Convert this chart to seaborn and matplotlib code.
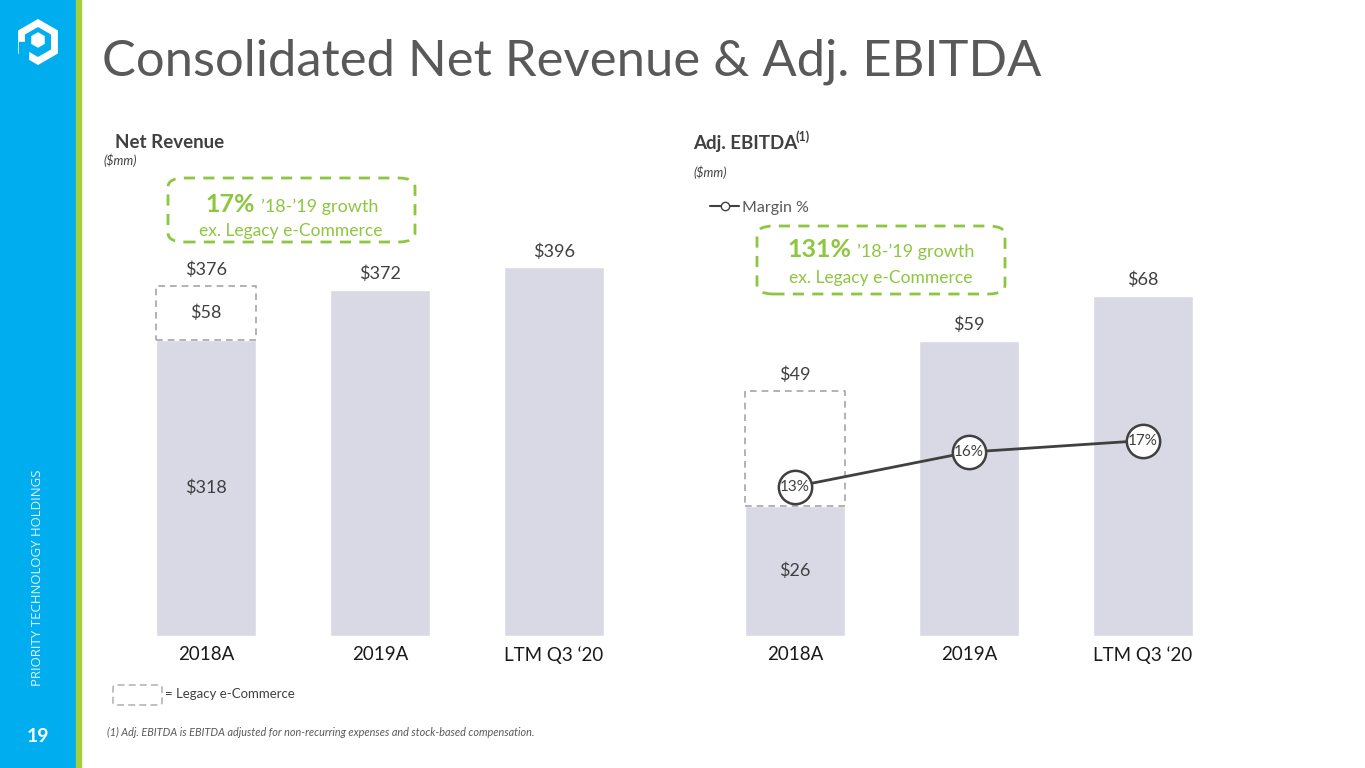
import numpy as np
import pandas as pd
import matplotlib
matplotlib.use("Agg")
import matplotlib.pyplot as plt
import seaborn as sns
from matplotlib.patches import Rectangle, FancyBboxPatch, Polygon
from matplotlib.lines import Line2D

# chart data
periods = ["2018A", "2019A", "LTM Q3 \u201820"]
rev_core = [318, 372, 396]
rev_legacy = [58, 0, 0]
ebitda_core = [26, 59, 68]
ebitda_legacy = [23, 0, 0]
margin_pct = [13, 16, 17]

W, H = 1365, 768
BAR = "#D9D9E6"
DARK = "#404040"
GREEN = "#8DC63F"
DASH_GREY = "#A6A6A6"

sns.set_theme(style="white")
plt.rcParams["font.family"] = ["Lato", "DejaVu Sans"]


def fx(x):
    return x / W


def fy(y):
    return 1 - y / H


fig = plt.figure(figsize=(W / 100, H / 100), dpi=100)

# sidebar
fig.patches.append(Rectangle((0, 0), fx(76), 1, transform=fig.transFigure,
                             color="#00AEEF", zorder=0))
fig.patches.append(Rectangle((fx(76), 0), fx(5), 1, transform=fig.transFigure,
                             color="#A6CE39", zorder=0))

# rough logo: hexagon outline with a small cube in the middle
cx, cy, r = 38, 42, 19
ang = np.radians(np.arange(90, 450, 60))
hexpts = [(fx(cx + r * np.cos(a)), fy(cy - r * np.sin(a))) for a in ang]
fig.patches.append(Polygon(hexpts, closed=True, fill=False, edgecolor="white",
                           lw=5, transform=fig.transFigure, zorder=2))
r2 = 7
cube = [(fx(cx + r2 * np.cos(a)), fy(cy - 2 - r2 * np.sin(a))) for a in ang]
fig.patches.append(Polygon(cube, closed=True, color="white",
                           transform=fig.transFigure, zorder=2))
fig.patches.append(Rectangle((fx(cx - 19), fy(66)), fx(9), fy(42) - fy(66),
                             color="#00AEEF", transform=fig.transFigure, zorder=3))

fig.text(fx(38), fy(578), "PRIORITY TECHNOLOGY HOLDINGS", rotation=90,
         color="#E0F4FC", fontsize=9.5, ha="center", va="center",
         fontfamily=["Open Sans", "DejaVu Sans"])
fig.text(fx(38), fy(736), "19", color="white", fontsize=14, fontweight="bold",
         ha="center", va="center")

# title
fig.text(fx(102), fy(62), "Consolidated Net Revenue & Adj. EBITDA",
         fontsize=36.5, color="#595959", ha="left", va="center")

# section headings
fig.text(fx(115), fy(143), "Net Revenue", fontsize=13.5, fontweight="bold",
         color=DARK, ha="left", va="center")
fig.text(fx(103), fy(160), "($mm)", fontsize=9, fontstyle="italic",
         color=DARK, ha="left", va="center")
fig.text(fx(693), fy(143), "Adj. EBITDA", fontsize=13.5, fontweight="bold",
         color=DARK, ha="left", va="center")
fig.text(fx(796), fy(137), "(1)", fontsize=9, fontweight="bold",
         color=DARK, ha="left", va="center")
fig.text(fx(693), fy(172), "($mm)", fontsize=9, fontstyle="italic",
         color=DARK, ha="left", va="center")


def bar_panel(rect, core, legacy, ymax, label_legacy):
    ax = fig.add_axes(rect)
    df = pd.DataFrame({"period": periods, "value": core})
    sns.barplot(data=df, x="period", y="value", color=BAR, saturation=1,
                width=0.58, ax=ax, zorder=1)
    for i, (c, l) in enumerate(zip(core, legacy)):
        total = c + l
        if l > 0:
            ax.bar(i, l, bottom=c, width=0.58, fill=False,
                   edgecolor=DASH_GREY, linestyle=(0, (4, 3)), lw=1.2,
                   zorder=1)
            ax.text(i, c / 2, f"${c}", ha="center", va="center",
                    fontsize=13, color=DARK)
            if label_legacy:
                ax.text(i, c + l / 2, f"${l}", ha="center", va="center",
                        fontsize=13, color=DARK)
        ax.annotate(f"${total}", (i, total), xytext=(0, 11.5),
                    textcoords="offset points", ha="center", va="center",
                    fontsize=13, color=DARK)
    ax.set_xlim(-0.5, len(periods) - 0.5)
    ax.set_ylim(0, ymax)
    ax.set_xlabel("")
    ax.set_ylabel("")
    ax.set_yticks([])
    ax.tick_params(axis="x", length=0, pad=7, labelsize=13.5,
                   labelcolor="#1A1A1A")
    sns.despine(ax=ax, left=True, bottom=True)
    return ax


ax_rev = bar_panel([fx(119), fy(636), fx(522), 391 / H],
                   rev_core, rev_legacy, 420, True)
ax_eb = bar_panel([fx(708), fy(636), fx(522), 400 / H],
                  ebitda_core, ebitda_legacy, 80, False)

# margin line on twin axis
ax_m = ax_eb.twinx()
sns.lineplot(x=np.arange(len(periods)), y=margin_pct, ax=ax_m, color=DARK,
             lw=2, marker="o", markersize=24, markerfacecolor="white",
             markeredgecolor=DARK, markeredgewidth=1.8, zorder=3)
for i, m in enumerate(margin_pct):
    ax_m.text(i, m, f"{m}%", ha="center", va="center", fontsize=11,
              color=DARK, zorder=4)
ax_m.set_ylim(0, 34.8)
ax_m.set_yticks([])
ax_m.set_ylabel("")
sns.despine(ax=ax_m, left=True, bottom=True, right=True)

handle = Line2D([], [], color=DARK, lw=1.5, marker="o", markersize=6,
                markerfacecolor="white", markeredgecolor=DARK)
fig.legend([handle], ["Margin %"], loc="center left",
           bbox_to_anchor=(fx(696), fy(208)), frameon=False, fontsize=11.5,
           handlelength=1.8, handletextpad=0.2, labelcolor="#595959")

# callouts
def callout(x0, y0, x1, y1, pct, xsplit, yline1, xcenter, yline2):
    box = FancyBboxPatch((fx(x0), fy(y1)), fx(x1 - x0), fy(y0) - fy(y1),
                         boxstyle="round,pad=0,rounding_size=0.012",
                         transform=fig.transFigure, fill=False,
                         edgecolor=GREEN, lw=2, linestyle=(0, (4, 3)))
    fig.patches.append(box)
    fig.text(fx(xsplit), fy(yline1), pct, fontsize=18, fontweight="bold",
             color=GREEN, ha="right", va="baseline")
    fig.text(fx(xsplit + 6), fy(yline1), "\u201918-\u201919 growth",
             fontsize=13, color=GREEN, ha="left", va="baseline")
    fig.text(fx(xcenter), fy(yline2), "ex. Legacy e-Commerce", fontsize=12.5,
             color=GREEN, ha="center", va="center")


callout(168, 178, 415, 242, "17%", 255, 212, 291, 231)
callout(757, 226, 1005, 294, "131%", 851, 257, 881, 278)

# legacy key
fig.patches.append(FancyBboxPatch((fx(113), fy(705)), fx(49), fy(685) - fy(705),
                                  boxstyle="round,pad=0,rounding_size=0.003",
                                  transform=fig.transFigure, fill=False,
                                  edgecolor=DASH_GREY, lw=1,
                                  linestyle=(0, (5, 3))))
fig.text(fx(165), fy(694), "= Legacy e-Commerce", fontsize=9.5, color=DARK,
         ha="left", va="center")

fig.text(fx(107), fy(732),
         "(1) Adj. EBITDA is EBITDA adjusted for non-recurring expenses and "
         "stock-based compensation.",
         fontsize=7.8, fontstyle="italic", color="#595959", ha="left",
         va="center")

fig.savefig("out.png", dpi=100)
